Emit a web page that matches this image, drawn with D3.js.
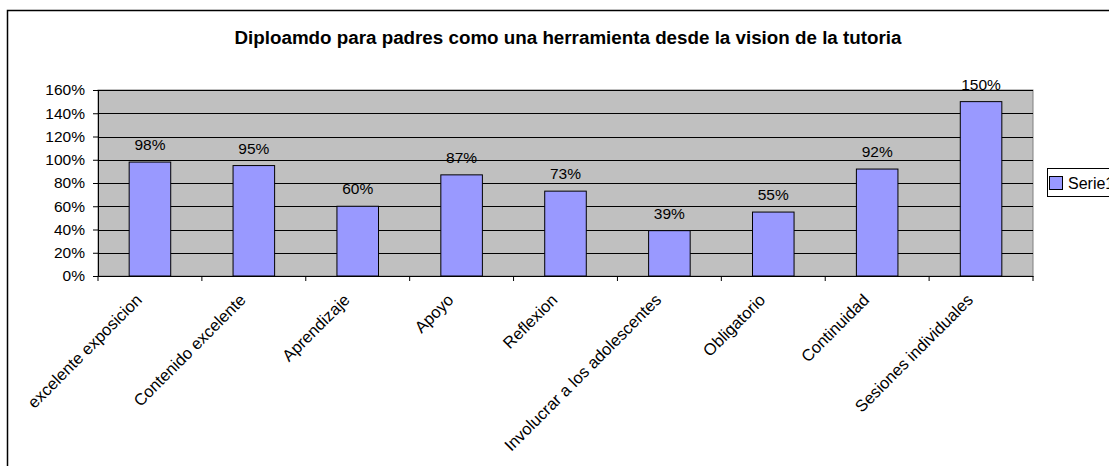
<!DOCTYPE html>
<html><head><meta charset="utf-8">
<script src="https://cdn.jsdelivr.net/npm/d3@7"></script>
<style>body{margin:0;background:#fff}svg{display:block}text{font-family:"Liberation Sans",Arial,sans-serif}</style>
</head><body>
<svg id="c" width="1109" height="466"></svg>
<script>
const categories = ["excelente exposicion","Contenido excelente","Aprendizaje","Apoyo","Reflexion","Involucrar a los adolescentes","Obligatorio","Continuidad","Sesiones individuales"];
const values = [0.98,0.95,0.60,0.87,0.73,0.39,0.55,0.92,1.50];
const yTicks = [0,0.2,0.4,0.6,0.8,1.0,1.2,1.4,1.6];
const seriesName = "Serie1";
const title = "Diploamdo para padres como una herramienta desde la vision de la tutoria";

const svg = d3.select("#c");
const m = {left:98, right:1033, top:90, bottom:276};
svg.append("rect").attr("x",7.5).attr("y",10.5).attr("width",1140).attr("height",480)
  .attr("fill","#fff").attr("stroke","#000").attr("stroke-width",1.5);

svg.append("text").attr("x",568).attr("y",44).attr("text-anchor","middle")
  .attr("font-weight","bold").attr("font-size",18.8).text(title);

const x = d3.scaleBand().domain(categories).range([m.left,m.right]).paddingInner(0).paddingOuter(0);
const y = d3.scaleLinear().domain([0,1.6]).range([m.bottom,m.top]);

svg.append("rect").attr("x",m.left).attr("y",m.top).attr("width",m.right-m.left).attr("height",m.bottom-m.top)
  .attr("fill","#C0C0C0").attr("stroke","#808080");

svg.append("g").selectAll("line").data(yTicks.slice(1)).join("line")
  .attr("x1",m.left).attr("x2",m.right).attr("y1",d=>Math.round(y(d))+0.5).attr("y2",d=>Math.round(y(d))+0.5)
  .attr("stroke","#000");

const bw = x.bandwidth()*0.4;
svg.append("g").selectAll("rect").data(values).join("rect")
  .attr("x",(d,i)=>x(categories[i])+x.bandwidth()/2-bw/2)
  .attr("y",d=>y(d)).attr("width",bw).attr("height",d=>m.bottom-y(d))
  .attr("fill","#9999FF").attr("stroke","#000").attr("stroke-width",1);

svg.append("g").selectAll("text").data(values).join("text")
  .attr("x",(d,i)=>x(categories[i])+x.bandwidth()/2).attr("y",d=>y(d)-12)
  .attr("text-anchor","middle").attr("font-size",15.5).attr("fill","#000")
  .text(d=>Math.round(d*100)+"%");

const ya = svg.append("g").attr("transform",`translate(${m.left},0)`)
  .call(d3.axisLeft(y).tickValues(yTicks).tickFormat(d=>Math.round(d*100)+"%").tickSize(5).tickPadding(8));
ya.select(".domain").attr("stroke","#000");
ya.selectAll("line").attr("stroke","#000");
ya.selectAll("text").attr("font-size",15.5).attr("fill","#000").attr("font-family","Liberation Sans, Arial, sans-serif");

const xa = svg.append("g").attr("transform",`translate(0,${m.bottom})`)
  .call(d3.axisBottom(x).tickSize(0).tickFormat(""));
xa.select(".domain").attr("stroke","#000");
svg.append("g").selectAll("line").data(d3.range(categories.length+1)).join("line")
  .attr("x1",i=>m.left+i*x.step()).attr("x2",i=>m.left+i*x.step())
  .attr("y1",m.bottom).attr("y2",m.bottom+5).attr("stroke","#000");
svg.append("g").selectAll("text").data(categories).join("text")
  .attr("transform",d=>`translate(${x(d)+x.bandwidth()/2-7},${m.bottom+25}) rotate(-45)`)
  .attr("text-anchor","end").attr("font-size",16.5).attr("fill","#000").text(d=>d);

svg.append("rect").attr("x",1047.5).attr("y",168.5).attr("width",80).attr("height",28)
  .attr("fill","#fff").attr("stroke","#000");
svg.append("rect").attr("x",1049.5).attr("y",176.5).attr("width",13).attr("height",13)
  .attr("fill","#9999FF").attr("stroke","#000");
svg.append("text").attr("x",1068).attr("y",189).attr("font-size",16).text(seriesName);
</script>
</body></html>
